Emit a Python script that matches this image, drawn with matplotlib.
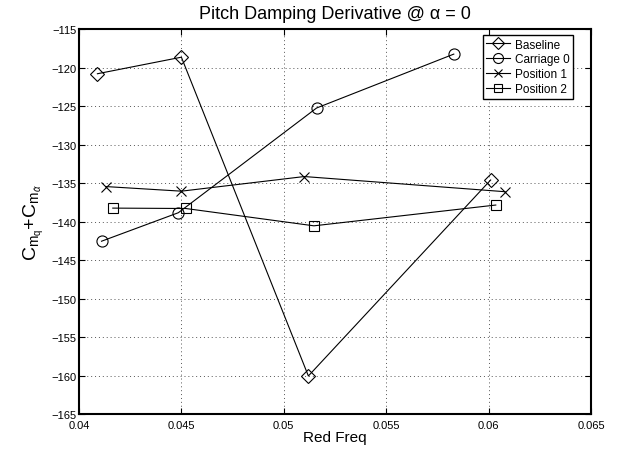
import matplotlib
matplotlib.use('Agg')
import matplotlib.pyplot as plt

plt.rcParams['font.family'] = ['Liberation Sans', 'DejaVu Sans']
plt.rcParams['mathtext.fontset'] = 'custom'
plt.rcParams['mathtext.rm'] = 'Liberation Sans'
plt.rcParams['mathtext.it'] = 'Liberation Sans:italic'

# Data
baseline_x = [0.0409, 0.0450, 0.0512, 0.0601]
baseline_y = [-120.75, -118.6, -160.0, -134.55]

carriage_x = [0.0411, 0.04485, 0.0516, 0.0583]
carriage_y = [-142.5, -138.8, -125.2, -118.2]

pos1_x = [0.0413, 0.0450, 0.0510, 0.0608]
pos1_y = [-135.4, -136.0, -134.1, -136.07]

pos2_x = [0.04165, 0.04521, 0.05147, 0.06035]
pos2_y = [-138.2, -138.25, -140.5, -137.8]

x_ticks = [0.04, 0.045, 0.05, 0.055, 0.06, 0.065]
x_labels = ['0.04', '0.045', '0.05', '0.055', '0.06', '0.065']
y_ticks = list(range(-165, -110, 5))

fig = plt.figure(figsize=(6.21, 4.52), dpi=100)
ax = fig.add_axes([0.1272, 0.0808, 0.8245, 0.8518])

style = dict(color='black', lw=0.8, mfc='none', mec='black', mew=0.8)
ax.plot(baseline_x, baseline_y, marker='D', ms=7, label='Baseline', **style)
ax.plot(carriage_x, carriage_y, marker='o', ms=8, label='Carriage 0', **style)
ax.plot(pos1_x, pos1_y, marker='x', ms=7, label='Position 1', **style)
ax.plot(pos2_x, pos2_y, marker='s', ms=7, label='Position 2', **style)

ax.set_xlim(0.04, 0.065)
ax.set_ylim(-165, -115)
ax.set_xticks(x_ticks)
ax.set_xticklabels(x_labels)
ax.set_yticks(y_ticks)
ax.set_yticklabels([str(v).replace('-', '\u2212') for v in y_ticks])

ax.tick_params(direction='in', top=True, right=True, labelsize=8,
               length=4, width=0.8)
ax.tick_params(axis='x', pad=4)
ax.tick_params(axis='y', pad=2)
ax.grid(True, linestyle=(0, (1, 3)), color='#555555', lw=0.7)
for s in ax.spines.values():
    s.set_linewidth(1.5)

ax.set_title('Pitch Damping Derivative @ \u03b1 = 0', fontsize=13, pad=8)
ax.set_xlabel('Red Freq', fontsize=11, labelpad=0)
ax.set_ylabel(r'$\mathrm{C}_{\mathrm{m}_\mathrm{q}}\mathrm{+C}_{\mathrm{m}_{\dot{\alpha}}}$',
              fontsize=14, labelpad=4)

leg = ax.legend(loc='upper right', bbox_to_anchor=(0.9648, 0.9857),
                borderaxespad=0, fontsize=8.5, fancybox=False, framealpha=1,
                edgecolor='black', handlelength=2.0, handletextpad=0.4,
                labelspacing=0.25, borderpad=0.3, markerscale=0.9)
leg.get_frame().set_linewidth(1.0)

fig.savefig('out.png', dpi=100)
